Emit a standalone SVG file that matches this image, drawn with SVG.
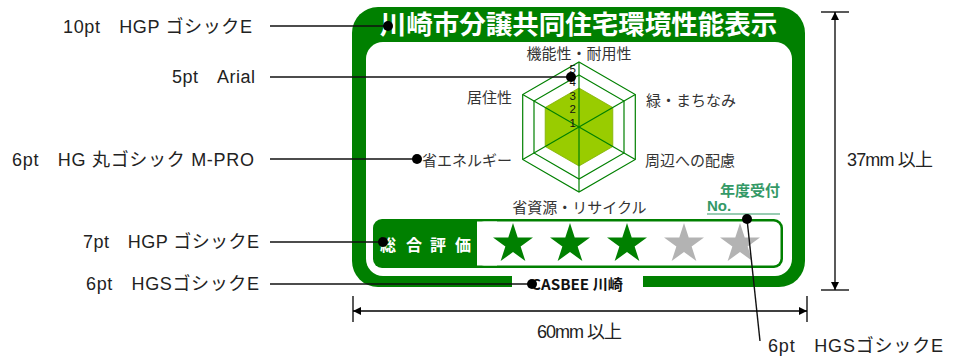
<svg xmlns="http://www.w3.org/2000/svg" width="959" height="358" viewBox="0 0 959 358">
<defs>
<style>
.lbl{font-family:"Liberation Sans","Noto Sans CJK JP",sans-serif;font-size:18px;fill:#222}
.ax{font-family:"Noto Sans CJK JP",sans-serif;font-size:15px;fill:#333}
.num{font-family:"Liberation Sans",Arial,sans-serif;font-size:11.5px;fill:#111;text-anchor:end}
.lead{stroke:#111;stroke-width:1.4;fill:none}
.dot{fill:#000}
.hex{fill:none;stroke:#008000;stroke-width:1.2}
.dim{stroke:#000;stroke-width:1.3;fill:none}
</style>
<path id="star" d="M0,-21 L4.71,-6.49 L19.97,-6.49 L7.63,2.48 L12.34,16.99 L0,8.02 L-12.34,16.99 L-7.63,2.48 L-19.97,-6.49 L-4.71,-6.49 Z"/>
<marker id="arr" viewBox="0 0 10 10" refX="10" refY="5" markerWidth="9" markerHeight="8" markerUnits="userSpaceOnUse" orient="auto-start-reverse">
<path d="M0,0 L10,5 L0,10 Z" fill="#000"/>
</marker>
</defs>

<g id="label-panel">
<rect x="352" y="7" width="453" height="280" rx="26" fill="#008000"/>
<rect x="366" y="42" width="426" height="234" rx="17" fill="#fff"/>
<rect x="512" y="270" width="131" height="18" fill="#fff"/>
<text x="578.5" y="34" text-anchor="middle" font-family="'Noto Sans CJK JP',sans-serif" font-weight="bold" font-size="26.5" fill="#fff">川崎市分譲共同住宅環境性能表示</text>
<text x="531" y="290" textLength="92" lengthAdjust="spacingAndGlyphs" font-family="'Noto Sans CJK JP',sans-serif" font-weight="bold" font-size="14.5" fill="#111">CASBEE 川崎</text>
</g>

<g id="radar-chart">
<polygon points="579,88 612.8,107.5 612.8,146.5 579,166 545.2,146.5 545.2,107.5" fill="#99cc00" stroke="#7fb000" stroke-width="0.8"/>
<polygon class="hex" points="579,62 635.3,94.5 635.3,159.5 579,192 522.7,159.5 522.7,94.5"/>
<polygon class="hex" points="579,75 624,101 624,153 579,179 534,153 534,101"/>
<line class="hex" x1="579" y1="62" x2="579" y2="192"/>
<line class="hex" x1="522.7" y1="94.5" x2="635.3" y2="159.5"/>
<line class="hex" x1="635.3" y1="94.5" x2="522.7" y2="159.5"/>
<text class="num" x="576" y="72.5">5</text>
<text class="num" x="576" y="86">4</text>
<text class="num" x="576" y="99.5">3</text>
<text class="num" x="576" y="113">2</text>
<text class="num" x="576" y="126.5">1</text>
<text class="ax" x="579" y="58.5" text-anchor="middle">機能性・耐用性</text>
<text class="ax" x="512" y="103" text-anchor="end">居住性</text>
<text class="ax" x="646" y="106">緑・まちなみ</text>
<text class="ax" x="512" y="166" text-anchor="end">省エネルギー</text>
<text class="ax" x="645" y="166">周辺への配慮</text>
<text class="ax" x="579.5" y="213" text-anchor="middle">省資源・リサイクル</text>
</g>

<g id="receipt-no">
<text x="780" y="196" text-anchor="end" font-family="'Noto Sans CJK JP',sans-serif" font-weight="bold" font-size="15" fill="#339966">年度受付</text>
<text x="707" y="211" font-family="'Liberation Sans Narrow','Liberation Sans',sans-serif" font-weight="bold" font-size="15" fill="#339966">No.</text>
<line x1="707" y1="214" x2="780" y2="214" stroke="#339966" stroke-width="1.2"/>
</g>

<g id="rating">
<rect x="373" y="219" width="410" height="49" rx="9" fill="#008000"/>
<rect x="477" y="221.5" width="303.5" height="44" rx="7" fill="#fff"/>
<rect x="477" y="221.5" width="20" height="44" fill="#fff"/>
<text y="251" font-family="'Noto Sans CJK JP',sans-serif" font-weight="bold" font-size="16" fill="#fff" x="380 396 406 422 430 446 455">総 合 評 価</text>
<use href="#star" x="513" y="244" fill="#008000"/>
<use href="#star" x="570" y="244" fill="#008000"/>
<use href="#star" x="627" y="244" fill="#008000"/>
<use href="#star" x="684" y="244" fill="#b3b3b3"/>
<use href="#star" x="740" y="244" fill="#b3b3b3"/>
</g>

<g id="annotations">
<text class="lbl" x="63" y="33" textLength="189" lengthAdjust="spacing">10pt　HGP ゴシックE</text>
<text class="lbl" x="172" y="83" textLength="83" lengthAdjust="spacing">5pt　Arial</text>
<text class="lbl" x="12" y="166" textLength="242" lengthAdjust="spacing">6pt　HG 丸ゴシック M-PRO</text>
<text class="lbl" x="83" y="248" textLength="176" lengthAdjust="spacing">7pt　HGP ゴシックE</text>
<text class="lbl" x="86" y="290" textLength="173" lengthAdjust="spacing">6pt　HGSゴシックE</text>
<text class="lbl" x="768" y="352" textLength="175" lengthAdjust="spacing">6pt　HGSゴシックE</text>
<text class="lbl" x="847" y="166" textLength="86" lengthAdjust="spacing">37mm 以上</text>
<text class="lbl" x="537" y="338" textLength="85" lengthAdjust="spacing">60mm 以上</text>
</g>

<g id="connectors">
<line class="lead" x1="270" y1="26" x2="388" y2="26"/>
<line class="lead" x1="270" y1="77" x2="571" y2="77"/>
<line class="lead" x1="270" y1="159" x2="417" y2="159"/>
<line class="lead" x1="270" y1="242" x2="383" y2="242"/>
<line class="lead" x1="270" y1="284" x2="532" y2="284"/>
<line class="lead" x1="747" y1="219" x2="760" y2="341"/>
<circle class="dot" cx="388" cy="26" r="5"/>
<circle class="dot" cx="571" cy="77" r="5"/>
<circle class="dot" cx="417" cy="159" r="5"/>
<circle class="dot" cx="383" cy="242" r="5"/>
<circle class="dot" cx="532" cy="284" r="5"/>
<circle class="dot" cx="747" cy="219" r="5"/>
<line class="dim" x1="821" y1="12" x2="849" y2="12"/>
<line class="dim" x1="821" y1="290" x2="849" y2="290"/>
<line class="dim" x1="835" y1="12" x2="835" y2="290" marker-start="url(#arr)" marker-end="url(#arr)"/>
<line class="dim" x1="353" y1="296" x2="353" y2="322"/>
<line class="dim" x1="807" y1="296" x2="807" y2="322"/>
<line class="dim" x1="353" y1="311" x2="807" y2="311" marker-start="url(#arr)" marker-end="url(#arr)"/>
</g>
</svg>
